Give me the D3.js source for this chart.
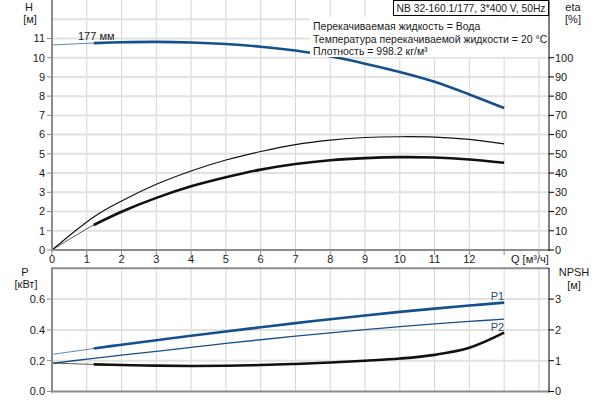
<!DOCTYPE html>
<html><head><meta charset="utf-8">
<script src="https://cdn.jsdelivr.net/npm/d3@7"></script>
<style>
body{margin:0;background:#fff}
text{font-family:"Liberation Sans",Arial,sans-serif;font-size:11px;fill:#1a1a1a}
text.small{font-size:10.5px}
</style></head><body>
<svg id="c" width="600" height="400"></svg>
<script>
// ---- data ----
const Q      = [0, 1.2, 2, 3, 4, 5, 6, 7, 8, 9, 10, 11, 12, 13];
const H      = [10.66, 10.76, 10.8, 10.82, 10.79, 10.71, 10.57, 10.37, 10.07, 9.69, 9.26, 8.75, 8.09, 7.38];
const etaTop = [0, 17.2, 25.5, 34.2, 41.1, 46.8, 51.2, 54.8, 57.1, 58.5, 58.9, 58.7, 57.5, 55.2];
const etaLow = [0, 13.0, 19.9, 27.1, 33.1, 37.8, 41.8, 44.7, 46.7, 47.8, 48.3, 48.1, 47.1, 45.4];
const P1     = [0.241, 0.279, 0.304, 0.333, 0.362, 0.390, 0.417, 0.444, 0.469, 0.494, 0.517, 0.538, 0.558, 0.577];
const P2     = [0.183, 0.215, 0.236, 0.261, 0.287, 0.312, 0.336, 0.359, 0.381, 0.402, 0.421, 0.439, 0.455, 0.470];
const NPSH   = [0.925, 0.88, 0.86, 0.84, 0.83, 0.835, 0.86, 0.895, 0.94, 1.0, 1.07, 1.19, 1.42, 1.91];
const qTicks   = [0,1,2,3,4,5,6,7,8,9,10,11,12];
const hTicks   = [0,1,2,3,4,5,6,7,8,9,10,11];
const etaTicks = [0,10,20,30,40,50,60,70,80,90,100];
const pTicks   = [0, 0.2, 0.4, 0.6];
const nTicks   = [0,1,2,3];
const title = "NB 32-160.1/177, 3*400 V, 50Hz";
const legendLines = ["Перекачиваемая жидкость = Вода","Температура перекачиваемой жидкости = 20 °C","Плотность = 998.2 кг/м³"];

const svg = d3.select("#c");
const L = 52, R = 549;
const x = d3.scaleLinear().domain([0, 14.29]).range([L, R]);
const yH = d3.scaleLinear().domain([0, 13]).range([250, 0]);
const yE = d3.scaleLinear().domain([0, 130]).range([250, 0]);
const yP = d3.scaleLinear().domain([0, 0.8]).range([391.5, 268.3]);
const yN = d3.scaleLinear().domain([0, 4]).range([391.5, 268.3]);
const blue = "#14508c";
const gridV = "#d4d4d4", gridH = "#e2e2e2", axisG = "#8c8c8c";
const vLines = d3.range(1, 15);

// ---- grids ----
const g = svg.append("g");
g.selectAll(".gv1").data(vLines).join("line").attr("x1", d=>x(d)).attr("x2", d=>x(d))
  .attr("y1", 0).attr("y2", 250).attr("stroke", gridV).attr("stroke-width", 1);
g.selectAll(".gh1").data(d3.range(1, 13)).join("line").attr("x1", L).attr("x2", R)
  .attr("y1", d=>yH(d)).attr("y2", d=>yH(d)).attr("stroke", gridH).attr("stroke-width", 2);
g.selectAll(".gv2").data(vLines).join("line").attr("x1", d=>x(d)).attr("x2", d=>x(d))
  .attr("y1", 268).attr("y2", 392).attr("stroke", gridV).attr("stroke-width", 1);
g.selectAll(".gh2").data([0.2, 0.4, 0.6]).join("line").attr("x1", L).attr("x2", R)
  .attr("y1", d=>yP(d)).attr("y2", d=>yP(d)).attr("stroke", gridH).attr("stroke-width", 2);

// ---- curves ----
const pts = arr => Q.map((q, i) => [q, arr[i]]);
function draw(arr, ys, color, wThin, wThick, thickFrom) {
  const ln = d3.line().x(d=>x(d[0])).y(d=>ys(d[1])).curve(d3.curveCatmullRom.alpha(0.5));
  const all = pts(arr);
  svg.append("path").attr("d", ln(all)).attr("fill", "none").attr("stroke", color)
    .attr("stroke-width", wThin).attr("opacity", thickFrom == null ? 1 : 0.7);
  if (thickFrom != null) {
    svg.append("path").attr("d", ln(all.slice(thickFrom))).attr("fill", "none")
      .attr("stroke", color).attr("stroke-width", wThick).attr("stroke-linecap", "butt");
  }
}
draw(etaTop, yE, "#111", 1.2, null, null);
draw(etaLow, yE, "#111", 1, 2.6, 1);
draw(H, yH, blue, 1, 2.6, 1);
draw(P2, yP, blue, 1.3, null, null);
draw(P1, yP, blue, 1, 2.6, 1);
draw(NPSH, yN, "#111", 1, 2.6, 1);

// ---- legend box (covers grid) ----
svg.append("rect").attr("x", 310).attr("y", 17).attr("width", 238).attr("height", 40).attr("fill", "#fff");
legendLines.forEach((t, i) => svg.append("text").attr("class", "small").attr("x", 313).attr("y", 30 + i * 12.6).text(t));

// ---- axes ----
function vline(xp, y1, y2, c, w){ svg.append("line").attr("x1", xp).attr("x2", xp).attr("y1", y1).attr("y2", y2).attr("stroke", c).attr("stroke-width", w); }
function hline(yp, x1, x2, c, w){ svg.append("line").attr("x1", x1).attr("x2", x2).attr("y1", yp).attr("y2", yp).attr("stroke", c).attr("stroke-width", w); }
vline(L, 0, 251, axisG, 2);
hline(250, L - 1, R, axisG, 2);
vline(R, 0, 251, "#000", 1);
hline(268.3, L - 1, R, axisG, 2);
vline(L, 268, 392.5, axisG, 2);
hline(391.5, L - 1, R, axisG, 2);
vline(R, 268, 392.5, "#000", 1);

// ticks
svg.selectAll(".th").data(hTicks).join("line").attr("x1", L - 5).attr("x2", L)
  .attr("y1", d=>yH(d)).attr("y2", d=>yH(d)).attr("stroke", axisG).attr("stroke-width", 1);
svg.selectAll(".thl").data(hTicks).join("text").attr("x", 45).attr("y", d=>yH(d)).attr("dy", "0.35em")
  .attr("text-anchor", "end").text(d=>d);
svg.selectAll(".te").data(etaTicks).join("line").attr("x1", R).attr("x2", R + 5)
  .attr("y1", d=>yE(d)).attr("y2", d=>yE(d)).attr("stroke", "#000").attr("stroke-width", 1);
svg.selectAll(".tel").data(etaTicks).join("text").attr("x", 555).attr("y", d=>yE(d)).attr("dy", "0.35em")
  .text(d=>d);
svg.selectAll(".tq").data(d3.range(0, 15)).join("line").attr("x1", d=>x(d)).attr("x2", d=>x(d))
  .attr("y1", 250).attr("y2", 255).attr("stroke", axisG).attr("stroke-width", 1);
svg.selectAll(".tql").data(qTicks).join("text").attr("x", d=>x(d)).attr("y", 263)
  .attr("text-anchor", "middle").text(d=>d);
svg.append("text").attr("x", 511).attr("y", 263).text("Q [м³/ч]");

svg.selectAll(".tp").data(pTicks).join("line").attr("x1", L - 5).attr("x2", L)
  .attr("y1", d=>yP(d)).attr("y2", d=>yP(d)).attr("stroke", axisG).attr("stroke-width", 1);
svg.selectAll(".tpl").data(pTicks).join("text").attr("x", 45).attr("y", d=>yP(d)).attr("dy", "0.35em")
  .attr("text-anchor", "end").text(d=>d.toFixed(1));
svg.selectAll(".tn").data(nTicks).join("line").attr("x1", R).attr("x2", R + 5)
  .attr("y1", d=>yN(d)).attr("y2", d=>yN(d)).attr("stroke", "#000").attr("stroke-width", 1);
svg.selectAll(".tnl").data(nTicks).join("text").attr("x", 555).attr("y", d=>yN(d)).attr("dy", "0.35em")
  .text(d=>d);

// axis titles
function lbl(t, xp, yp){ svg.append("text").attr("x", xp).attr("y", yp).attr("text-anchor", "middle").text(t); }
lbl("H", 29, 11); lbl("[м]", 30, 23);
lbl("eta", 573, 11); lbl("[%]", 573, 23);
lbl("P", 25, 276); lbl("[кВт]", 26, 288);
lbl("NPSH", 574, 276); lbl("[м]", 574, 289);

// curve labels
svg.append("text").attr("x", 78).attr("y", 40).text("177 мм");
svg.append("text").attr("x", x(13)).attr("y", 300).attr("text-anchor", "end").style("fill", "#2a4a6e").text("P1");
svg.append("text").attr("x", x(13)).attr("y", 331).attr("text-anchor", "end").style("fill", "#2a4a6e").text("P2");

// title box
svg.append("rect").attr("x", 393.5).attr("y", 0.5).attr("width", 155).attr("height", 15)
  .attr("fill", "#fff").attr("stroke", "#000").attr("stroke-width", 1);
svg.append("text").attr("class", "small").attr("x", 471).attr("y", 12).attr("text-anchor", "middle")
  .attr("textLength", 149).attr("lengthAdjust", "spacingAndGlyphs").text(title);
</script></body></html>
